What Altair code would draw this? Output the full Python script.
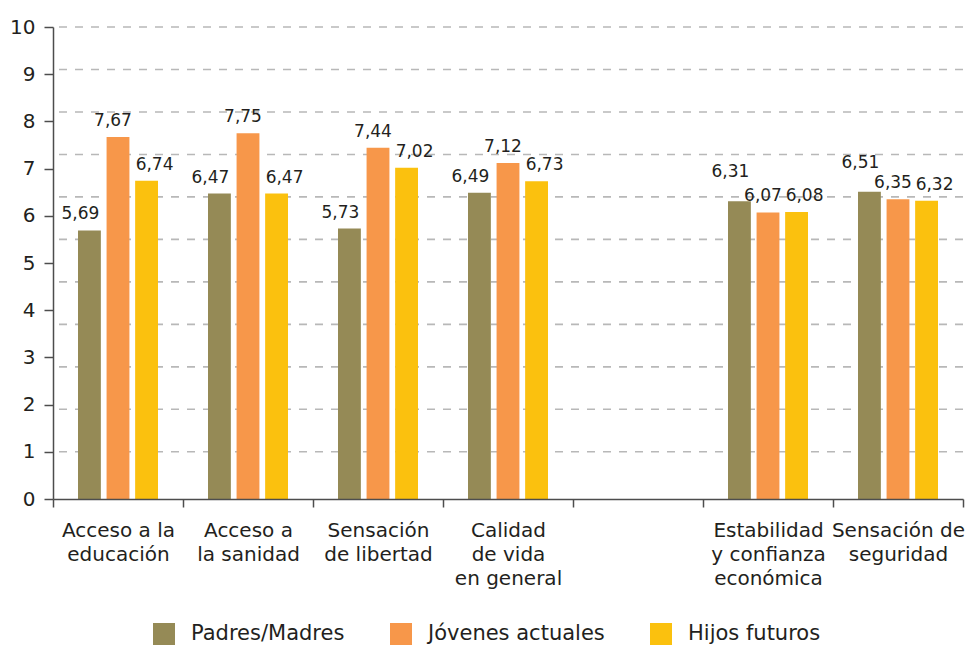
import altair as alt
import pandas as pd

# ---- data ----
categories = [
    "Acceso a la|educación",
    "Acceso a|la sanidad",
    "Sensación|de libertad",
    "Calidad|de vida|en general",
    " ",
    "Estabilidad|y confianza|económica",
    "Sensación de|seguridad",
]
series = ["Padres/Madres", "Jóvenes actuales", "Hijos futuros"]
padres = [5.69, 6.47, 5.73, 6.49, None, 6.31, 6.51]
jovenes = [7.67, 7.75, 7.44, 7.12, None, 6.07, 6.35]
hijos = [6.74, 6.47, 7.02, 6.73, None, 6.08, 6.32]
grid_values = [1.0, 1.9, 2.8, 3.7, 4.6, 5.5, 6.4, 7.3, 8.2, 9.1, 10.0]
y_ticks = [0, 1, 2, 3, 4, 5, 6, 7, 8, 9, 10]

colors = ["#958A56", "#F7974A", "#FBC10E"]
FONT = "DejaVu Sans"
TXT = "#231f20"
AX = "#4d4d4d"

rows = []
for i, cat in enumerate(categories):
    vals = [padres[i], jovenes[i], hijos[i]]
    for s, v in zip(series, vals):
        if v is None:
            continue
        # raise the first label when it would collide with a lower neighbour
        lift = "alto" if (s == series[0] and vals[0] > vals[1]) else "normal"
        rows.append({"categoria": cat, "serie": s, "valor": v, "lift": lift})
df = pd.DataFrame(rows)

x_enc = alt.X(
    "categoria:N",
    sort=categories,
    scale=alt.Scale(domain=categories, paddingInner=0, paddingOuter=0),
    axis=alt.Axis(
        title=None, labelAngle=0, tickBand="extent",
        labelExpr="isValid(datum.value) ? split(datum.value, '|') : ''",
        labelFont=FONT, labelFontSize=20, labelColor=TXT,
        labelLineHeight=24, labelPadding=13, labelLimit=300,
        domainColor=AX, domainWidth=1.5, tickColor=AX, tickWidth=1.5, tickSize=8,
        zindex=1,
    ),
)
xoff = alt.XOffset(
    "serie:N", sort=series,
    scale=alt.Scale(domain=series, paddingInner=0.2, paddingOuter=0.875),
)
y_enc = alt.Y(
    "valor:Q",
    scale=alt.Scale(domain=[0, 10], nice=False),
    axis=alt.Axis(
        title=None, values=y_ticks, grid=False,
        labelFont=FONT, labelFontSize=20, labelColor=TXT, labelPadding=9,
        domainColor=AX, domainWidth=1.5, tickColor=AX, tickWidth=1.5, tickSize=9,
        zindex=1,
    ),
)

grid = alt.Chart(pd.DataFrame({"valor": grid_values})).mark_rule(
    color="#b8b8b8", strokeWidth=1.6, strokeDash=[8, 8]
).encode(y=alt.Y("valor:Q"))

bars = alt.Chart(df).mark_bar().encode(
    x=x_enc,
    xOffset=xoff,
    y=y_enc,
    color=alt.Color(
        "serie:N",
        scale=alt.Scale(domain=series, range=colors),
        legend=alt.Legend(
            title=None, orient="none", legendX=100, legendY=596,
            direction="horizontal", symbolType="square", symbolSize=484,
            symbolStrokeWidth=0, labelFont=FONT, labelFontSize=21,
            labelColor=TXT, labelOffset=16, labelLimit=300,
            columnPadding=45, padding=0,
        ),
    ),
)

label_dx = {series[0]: -9, series[1]: -5, series[2]: 8}
label_dy = {"normal": -11, "alto": -24}

texts = []
for s in series:
    for lk in ["normal", "alto"]:
        if df[(df.serie == s) & (df.lift == lk)].empty:
            continue
        t = alt.Chart(df).transform_filter(
            (alt.datum.serie == s) & (alt.datum.lift == lk)
        ).transform_calculate(
            etiqueta="replace(format(datum.valor, '.2f'), '.', ',')"
        ).mark_text(
            font=FONT, fontSize=17, color=TXT, baseline="alphabetic",
            align="center", dx=label_dx[s], dy=label_dy[lk],
        ).encode(
            x=alt.X("categoria:N", sort=categories),
            xOffset=xoff,
            y=alt.Y("valor:Q"),
            text="etiqueta:N",
        )
        texts.append(t)

chart = alt.layer(grid, bars, *texts).properties(
    width=910, height=472,
    padding={"left": 45, "top": 19, "right": 8, "bottom": 150},
    autosize=alt.AutoSizeParams(type="none"),
).configure_view(stroke=None)

chart.save("out.html", embed_options={"renderer": "svg", "actions": False})
